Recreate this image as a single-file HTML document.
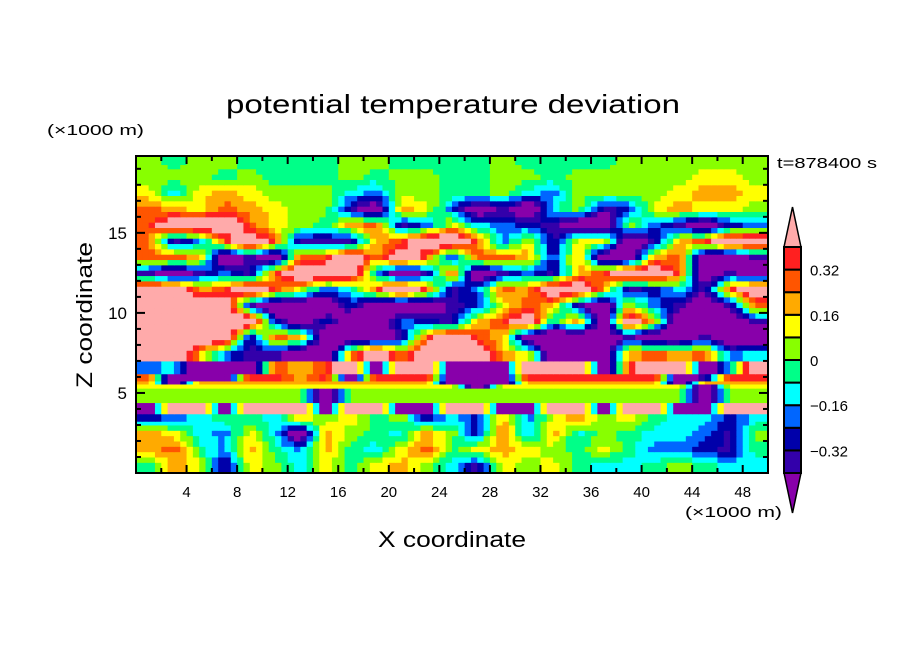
<!DOCTYPE html>
<html><head><meta charset="utf-8"><style>
html,body{margin:0;padding:0;background:#fff;}
svg{display:block;font-family:"Liberation Sans",sans-serif;}
</style></head><body>
<svg id="chart" width="904" height="654" viewBox="0 0 904 654" xmlns="http://www.w3.org/2000/svg">
<rect x="0" y="0" width="904" height="654" fill="#fff"/>
<text x="453" y="113" text-anchor="middle" font-size="26" textLength="454" lengthAdjust="spacingAndGlyphs">potential temperature deviation</text>
<text x="47" y="135" font-size="15" textLength="97" lengthAdjust="spacingAndGlyphs">(×1000 m)</text>
<text x="777" y="168" font-size="15" textLength="100" lengthAdjust="spacingAndGlyphs">t=878400 s</text>
<text transform="translate(92,315) rotate(-90)" text-anchor="middle" font-size="22" textLength="146" lengthAdjust="spacingAndGlyphs">Z coordinate</text>
<text x="452" y="547" text-anchor="middle" font-size="22" textLength="148" lengthAdjust="spacingAndGlyphs">X coordinate</text>
<text x="685" y="517" font-size="15" textLength="97" lengthAdjust="spacingAndGlyphs">(×1000 m)</text>
<g id="field"></g>
<g id="axes"></g>
<g id="cbar"></g>
</svg>
<script>
// ---- data ----
var P=-0.6,I=-0.36,D=-0.28,B=-0.2,C=-0.12,G=-0.04,Y=0.04,y=0.12,O=0.2,R=0.28,r=0.36,K=0.6;
var levels=[-0.4,-0.32,-0.24,-0.16,-0.08,0,0.08,0.16,0.24,0.32,0.4];
var levelColors=["#8800aa","#3300aa","#0000aa","#0066ff","#00ffff","#00ff88","#88ff00","#ffff00","#ffaa00","#ff5500","#ff2020","#ffaaaa"];
var tickLabelsCbar=["0.32","0.16","0","\u22120.16","\u22120.32"];
var tickValuesCbar=[0.32,0.16,0,-0.16,-0.32];
var xTicks=[4,8,12,16,20,24,28,32,36,40,44,48];
var zTicks=[5,10,15];
var zEdges=[0,1,2,3,3.7,4.4,5.3,5.56,5.75,6.2,7,8,9,10,11,12,13,14,15,16,17,18,19,19.8];
var row0=[G,O,y,I,y,Y,C,y,G,y,O,Y,C,I,y,Y,y,G,C,C,G,Y,G,C,C];
var row1=[O,R,G,B,O,G,B,O,G,C,y,R,G,y,O,y,Y,G,y,G,B,B,D,I,G];
var row2=[O,y,C,B,y,C,P,O,Y,G,C,O,Y,D,R,B,O,C,Y,G,C,C,B,I,Y];
var row3=[D,B,C,G,G,C,y,Y,y,G,Y,D,C,D,O,B,y,O,Y,y,G,C,C,D,C];
var row4=[P,K,K,P,K,K,K,P,K,K,P,P,K,K,P,P,K,K,P,K,K,P,P,K,K];
var row5=[Y,Y,Y,Y,Y,Y,Y,P,Y,Y,Y,Y,Y,Y,Y,Y,Y,Y,Y,Y,Y,Y,P,Y,Y];
var row6=[y,y,y,y,y,y,y,y,y,y,y,y,y,P,y,y,y,y,y,y,y,y,P,y,y];
var row7=[O,P,O,O,O,O,O,O,O,O,O,O,P,P,P,O,O,O,O,O,O,P,O,O,O];
var row8=[R,P,P,P,r,r,O,r,P,r,r,r,P,P,P,r,r,r,r,r,r,P,I,r,r];
var row9=[B,C,P,P,P,R,O,R,K,P,K,K,P,P,P,K,K,K,P,R,K,K,P,C,K];
var row10=[K,K,O,B,I,I,P,P,O,K,O,K,K,K,O,y,P,P,P,O,R,O,R,B,C];
var row11=[K,K,K,K,I,R,O,P,P,P,I,R,K,R,O,P,P,P,P,I,P,P,I,P,P];
var row12=[K,K,K,K,K,D,P,D,P,P,B,D,I,O,R,K,C,O,P,K,y,P,P,P,I];
var row13=[K,K,K,K,I,P,P,P,D,P,P,P,I,D,y,R,O,I,P,y,B,I,P,I,R];
var row14=[K,K,O,R,K,R,y,B,C,R,K,R,I,B,R,O,K,K,O,I,D,C,I,R,K];
var row15=[I,P,I,B,I,R,K,K,K,C,P,I,R,P,I,B,I,O,R,K,K,R,P,I,P];
var row16=[R,R,O,P,I,P,R,R,K,O,K,R,D,R,R,O,D,O,P,P,O,R,P,P,I];
var row17=[R,I,B,R,K,R,I,I,I,O,R,K,K,R,B,y,I,y,y,P,I,O,R,K,K];
var row18=[R,K,K,K,R,y,Y,G,O,R,I,B,y,C,B,D,I,P,P,Y,B,I,P,D,B];
var row19=[R,O,y,R,O,y,Y,Y,I,P,O,y,B,P,I,P,C,Y,I,D,y,O,y,y,Y];
var row20=[y,C,y,O,y,Y,Y,Y,C,B,Y,Y,G,G,Y,C,B,Y,Y,Y,Y,y,O,O,y];
var row21=[Y,Y,Y,G,Y,G,G,G,Y,G,Y,Y,G,G,Y,Y,G,Y,Y,Y,Y,Y,y,y,Y];
var row22=[Y,G,Y,Y,G,G,G,G,Y,Y,G,G,G,G,Y,G,G,G,G,Y,Y,Y,Y,Y,Y];
var rows=[row0,row1,row2,row3,row4,row5,row6,row7,row8,row9,row10,row11,row12,row13,row14,row15,row16,row17,row18,row19,row20,row21,row22];

// ---- axes functions ----
var PX0=136,PX1=768,PY0=473,PY1=156,XMAX=50,ZMAX=19.8;
function sx(v){return PX0+(PX1-PX0)*v/XMAX;}
function sz(v){return PY0-(PY0-PY1)*v/ZMAX;}
function colorFor(v){var i=0;while(i<levels.length&&v>=levels[i])i++;return levelColors[i];}
var NS="http://www.w3.org/2000/svg";
function mk(tag,attrs,parent){var e=document.createElementNS(NS,tag);for(var k in attrs)e.setAttribute(k,attrs[k]);parent.appendChild(e);return e;}

function rowVal(row,xk){
  var n=row.length,dx=XMAX/n,f=xk/dx-0.5;
  if(f<=0)return row[0];
  if(f>=n-1)return row[n-1];
  var i=Math.floor(f),t=f-i;
  return row[i]*(1-t)+row[i+1]*t;
}
var SHARP_LO=4,SHARP_HI=9;
function fieldVal(xk,zk,ri){
  if(ri>=SHARP_LO&&ri<=SHARP_HI)return rowVal(rows[ri],xk);
  var lo=(ri<SHARP_LO)?0:SHARP_HI+1, hi=(ri<SHARP_LO)?SHARP_LO-1:rows.length-1;
  var cRi=(zEdges[ri]+zEdges[ri+1])/2, j=ri;
  if(zk<cRi)j=ri-1;
  if(j<lo)return rowVal(rows[lo],xk);
  if(j+1>hi)return rowVal(rows[hi],xk);
  var c0=(zEdges[j]+zEdges[j+1])/2,c1=(zEdges[j+1]+zEdges[j+2])/2;
  var t=(zk-c0)/(c1-c0);
  return rowVal(rows[j],xk)*(1-t)+rowVal(rows[j+1],xk)*t;
}

var field=document.getElementById('field');
var SUBX=4,SUBZ=3;
for(var ri=0;ri<rows.length;ri++){
  var row=rows[ri],n=row.length,dx=XMAX/n;
  var z0=zEdges[ri],z1=zEdges[ri+1],dz=(z1-z0)/SUBZ;
  for(var sj=0;sj<SUBZ;sj++){
    var za=z0+sj*dz,zb=za+dz,ya=sz(zb),yb=sz(za);
    for(var ci=0;ci<n*SUBX;ci++){
      var xa0=ci*dx/SUBX,xb0=xa0+dx/SUBX;
      var v=fieldVal((xa0+xb0)/2,(za+zb)/2,ri);
      var xa=sx(xa0),xb=sx(xb0);
      var c=mk('rect',{x:xa.toFixed(2),y:ya.toFixed(2),width:(xb-xa+0.5).toFixed(2),height:(yb-ya+0.5).toFixed(2),fill:colorFor(v)},field);
      
      
    }
  }
}

var axes=document.getElementById('axes');
var frame=mk('rect',{x:PX0,y:PY1,width:PX1-PX0,height:PY0-PY1,fill:'none',stroke:'#000','stroke-width':2},axes);


for(var t=2;t<XMAX;t+=2){
  var L=(t%4===0)?8:5,xx=sx(t);
  var tk=mk('line',{x1:xx,y1:PY0,x2:xx,y2:PY0-L,stroke:'#000','stroke-width':2},axes);
  
  
  var tk2=mk('line',{x1:xx,y1:PY1,x2:xx,y2:PY1+L,stroke:'#000','stroke-width':2},axes);
  
  
}
for(var z=1;z<ZMAX;z+=1){
  var Lz=(z%5===0)?9:5,yy=sz(z);
  var tz=mk('line',{x1:PX0,y1:yy,x2:PX0+Lz,y2:yy,stroke:'#000','stroke-width':2},axes);
  
  
  var tz2=mk('line',{x1:PX1,y1:yy,x2:PX1-Lz,y2:yy,stroke:'#000','stroke-width':2},axes);
  
  
}
xTicks.forEach(function(v){
  var tl=mk('text',{x:sx(v),y:497,'text-anchor':'middle','font-size':15},axes);
  tl.textContent=String(v);
  
  
});
zTicks.forEach(function(v){
  var tl=mk('text',{x:127,y:sz(v)+6,'text-anchor':'end','font-size':17},axes);
  tl.textContent=String(v);
  
  
});

// ---- colorbar ----
var cb=document.getElementById('cbar');
var CX0=784,CX1=801,CY0=473,CY1=247;
var nb=levels.length-1;
function cy(v){return CY0-(v-levels[0])/(levels[levels.length-1]-levels[0])*(CY0-CY1);}
var tri1=mk('polygon',{points:CX0+','+CY1+' '+CX1+','+CY1+' '+((CX0+CX1)/2)+',207',fill:levelColors[levelColors.length-1],stroke:'#000','stroke-width':1.5},cb);


var tri2=mk('polygon',{points:CX0+','+CY0+' '+CX1+','+CY0+' '+((CX0+CX1)/2)+',513',fill:levelColors[0],stroke:'#000','stroke-width':1.5},cb);


for(var b=0;b<nb;b++){
  var y0=cy(levels[b+1]),y1=cy(levels[b]);
  var br=mk('rect',{x:CX0,y:y0,width:CX1-CX0,height:y1-y0,fill:levelColors[b+1],stroke:'#000','stroke-width':2},cb);
  
  
}
tickValuesCbar.forEach(function(v,i){
  var tl=mk('text',{x:810,y:cy(v)+6,'font-size':15},cb);
  tl.textContent=tickLabelsCbar[i];
  
  
});
</script>
</body></html>
